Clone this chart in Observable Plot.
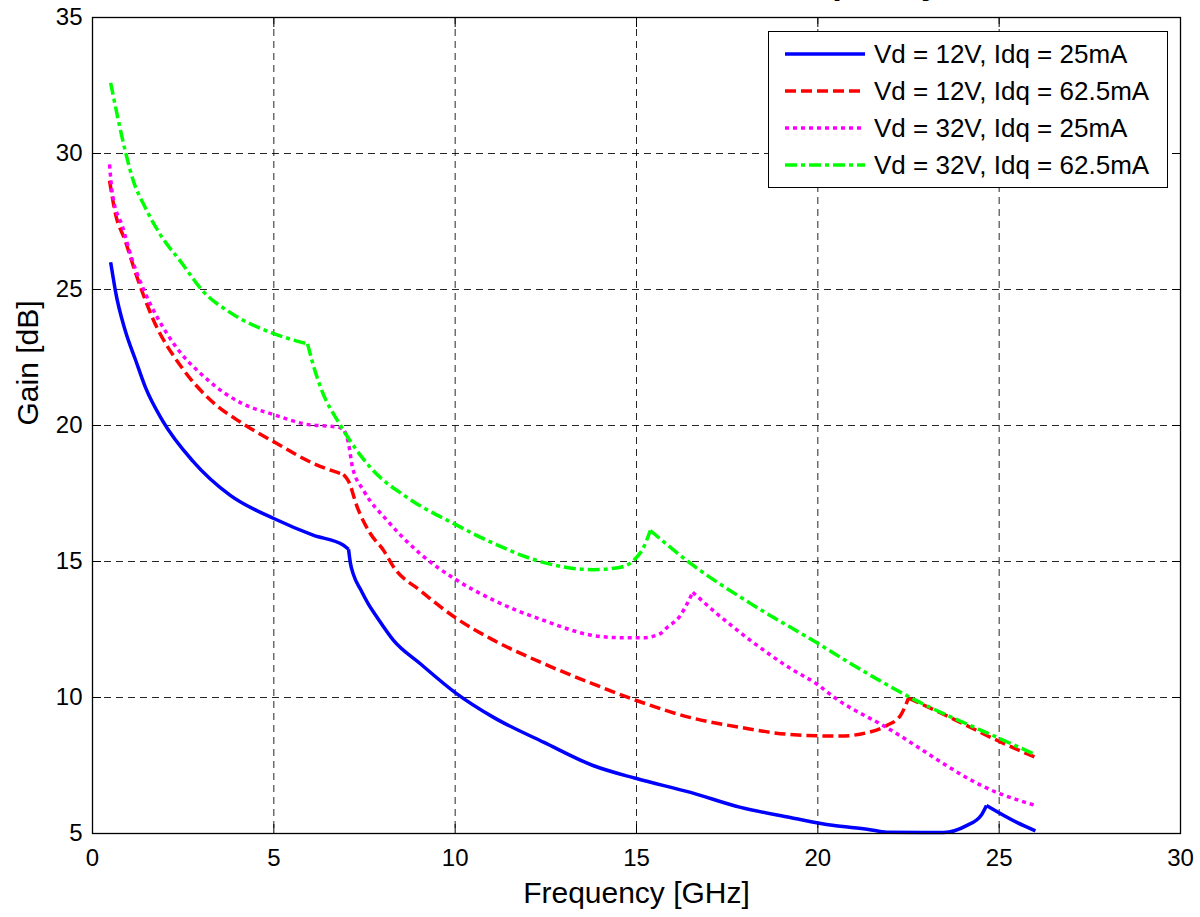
<!DOCTYPE html>
<html>
<head>
<meta charset="utf-8">
<script src="https://cdn.jsdelivr.net/npm/d3@7"></script>
<script src="https://cdn.jsdelivr.net/npm/@observablehq/plot@0.6"></script>
<style>
  body { margin: 0; background: #fff; font-family: "Liberation Sans", Arial, sans-serif; }
  #wrap { position: relative; width: 1200px; height: 917px; overflow: hidden; background: #fff; }
  #title { position: absolute; right: 260px; top: -35px; font-size: 34px; line-height: 1; font-weight: bold; white-space: nowrap; color: #000; }
  #legend { position: absolute; left: 768px; top: 31px; width: 400px; height: 157px; border: 1.3px solid #000; background: #fff; box-sizing: border-box; }
  .row { position: absolute; left: 0; height: 36px; display: flex; align-items: center; }
  .row svg { margin-left: 16px; margin-right: 9px; }
  .row span { font-size: 26px; color: #000; white-space: nowrap; }
</style>
</head>
<body>
<div id="wrap">
  <div id="title">Gain vs. Frequency</div>
  <div id="chart"></div>
  <div id="legend"></div>
</div>
<script>
// ---- data ----
const seriesNames = [
  "Vd = 12V, Idq = 25mA",
  "Vd = 12V, Idq = 62.5mA",
  "Vd = 32V, Idq = 25mA",
  "Vd = 32V, Idq = 62.5mA"
];
const seriesColors = ["#0000ff", "#ff0000", "#ff00ff", "#00ff00"];
const seriesDash = [null, "11,5", "4,4", "12,4,4,4"];

const freq12v25 = [0.5,0.55,0.63,0.9,1.19,1.46,1.93,2.76,3.8,5.0,6.1,6.92,7.06,7.11,7.2,7.4,7.6,7.85,8.3,9.04,10,11.07,12.45,13.8,15,16.49,17.87,19.24,20.4,21.4,21.9,23.47,24.1,24.5,24.65,25.5,26];
const gain12v25 = [26.0,25.6,24.96,23.5,22.4,21.4,20.18,18.7,17.43,16.58,15.96,15.6,15.45,14.95,14.5,13.95,13.45,12.94,12.1,11.24,10.18,9.26,8.35,7.5,7.02,6.51,5.96,5.59,5.3,5.15,5.05,5.04,5.29,5.66,6.03,5.4,5.1];
const kinks12v25 = [7.06, 24.65];

const freq12v62 = [0.47,0.63,0.9,1.19,1.65,2.48,3.2,4.14,5.0,6.1,6.92,7.06,7.3,7.66,8.03,8.3,9.04,10,11.07,12.45,13.8,15,16.49,17.87,19.24,20.6,21.37,21.9,22.28,22.5,23.66,24.95,26];
const gain12v62 = [29.0,27.8,26.8,25.6,23.97,22.1,21.0,20.07,19.4,18.6,18.2,17.95,17.0,16.03,15.4,14.8,13.93,12.94,12.1,11.24,10.5,9.89,9.26,8.9,8.64,8.58,8.71,8.97,9.34,9.98,9.26,8.42,7.8];
const kinks12v62 = [6.92, 22.5];

const freq32v25 = [0.47,0.55,0.83,1.1,1.46,2.12,3.2,4.14,5.0,5.87,6.8,6.95,7.05,7.17,7.48,8.13,9.04,10,11.07,12.45,13.8,14.56,15.2,15.66,15.84,16.2,16.4,16.55,17.2,18.14,19.24,20.0,20.5,21.8,24.95,26];
const gain32v25 = [29.6,28.5,27.3,26.07,24.85,23.24,21.65,20.8,20.4,20.05,19.93,19.8,19.4,18.46,17.6,16.5,15.28,14.35,13.57,12.83,12.28,12.2,12.2,12.35,12.57,13.0,13.46,13.87,13.1,12.1,11.07,10.47,9.96,8.97,6.5,6.03];
const kinks32v25 = [6.95, 16.55];

const freq32v62 = [0.5,0.92,1.1,1.46,1.85,2.48,3.03,3.8,4.96,5.93,6.07,6.29,6.84,7.66,8.68,9.95,11.07,12.45,13.8,14.56,14.92,15.2,15.38,16.49,18.14,20.0,20.9,22.55,24.95,26];
const gain32v62 = [32.6,30.0,29.1,28.0,27.06,25.94,24.96,24.15,23.4,23.0,22.3,21.4,20.0,18.46,17.35,16.4,15.66,14.96,14.7,14.79,15.04,15.53,16.14,14.93,13.46,11.99,11.25,10.0,8.53,7.9];
const kinks32v62 = [5.93, 15.38];

const xTicks = [0, 5, 10, 15, 20, 25, 30];
const yTicks = [5, 10, 15, 20, 25, 30, 35];
const xLabel = "Frequency [GHz]";
const yLabel = "Gain [dB]";

// ---- build: split each series at its sharp corners so the smooth curve keeps them sharp ----
const freqs = [freq12v25, freq12v62, freq32v25, freq32v62];
const gains = [gain12v25, gain12v62, gain32v25, gain32v62];
const kinks = [kinks12v25, kinks12v62, kinks32v25, kinks32v62];
const data = [];
freqs.forEach((fs, i) => {
  fs.forEach((f, j) => {
    const seg = kinks[i].filter(k => f > k).length;
    const row = { s: i, seg: i + "-" + seg, f, g: gains[i][j] };
    data.push(row);
    if (kinks[i].includes(f)) data.push({ ...row, seg: i + "-" + (seg + 1) });
  });
});

const lineMarks = seriesNames.map((name, i) =>
  Plot.line(data.filter(d => d.s === i), {
    x: "f", y: "g", z: "seg",
    curve: "monotone-x",
    stroke: seriesColors[i],
    strokeWidth: 3.5,
    strokeDasharray: seriesDash[i] || undefined,
    strokeLinecap: "butt",
    strokeLinejoin: "round"
  })
);

const chart = Plot.plot({
  width: 1200,
  height: 917,
  marginLeft: 92,
  marginRight: 20,
  marginTop: 17,
  marginBottom: 84,
  style: { fontFamily: "Liberation Sans, Arial, sans-serif", fontSize: "24px", color: "#000", background: "#fff" },
  x: { domain: [0, 30], label: null },
  y: { domain: [5, 35], label: null },
  marks: [
    Plot.gridX(xTicks, { stroke: "#000", strokeOpacity: 0.85, strokeWidth: 1, strokeDasharray: "7,5" }),
    Plot.gridY(yTicks, { stroke: "#000", strokeOpacity: 0.85, strokeWidth: 1, strokeDasharray: "7,5" }),
    ...lineMarks,
    Plot.frame({ stroke: "#000", strokeWidth: 1.3 }),
    Plot.axisX(xTicks, { anchor: "bottom", tickSize: -9, tickPadding: 24, fontSize: 24, label: null }),
    Plot.axisX(xTicks, { anchor: "top", tickSize: -9, tickFormat: () => "", label: null }),
    Plot.axisY(yTicks, { anchor: "left", tickSize: -9, tickPadding: 19, fontSize: 24, label: null }),
    Plot.axisY(yTicks, { anchor: "right", tickSize: -9, tickFormat: () => "", label: null }),
    Plot.text([xLabel], { frameAnchor: "bottom", dy: 60, fontSize: 30, lineAnchor: "middle" }),
    Plot.text([yLabel], { frameAnchor: "left", dx: -64, rotate: -90, fontSize: 30, lineAnchor: "middle" })
  ]
});
document.getElementById("chart").appendChild(chart);

// ---- legend ----
const legend = document.getElementById("legend");
const rowCenters = [22, 59, 96, 133];
seriesNames.forEach((name, i) => {
  const row = document.createElement("div");
  row.className = "row";
  row.style.top = (rowCenters[i] - 18) + "px";
  const dash = seriesDash[i] ? `stroke-dasharray="${seriesDash[i]}"` : "";
  row.innerHTML = `<svg width="80" height="10"><line x1="0" y1="5" x2="80" y2="5" stroke="${seriesColors[i]}" stroke-width="3.5" ${dash}/></svg><span>${name}</span>`;
  legend.appendChild(row);
});
</script>
</body>
</html>
